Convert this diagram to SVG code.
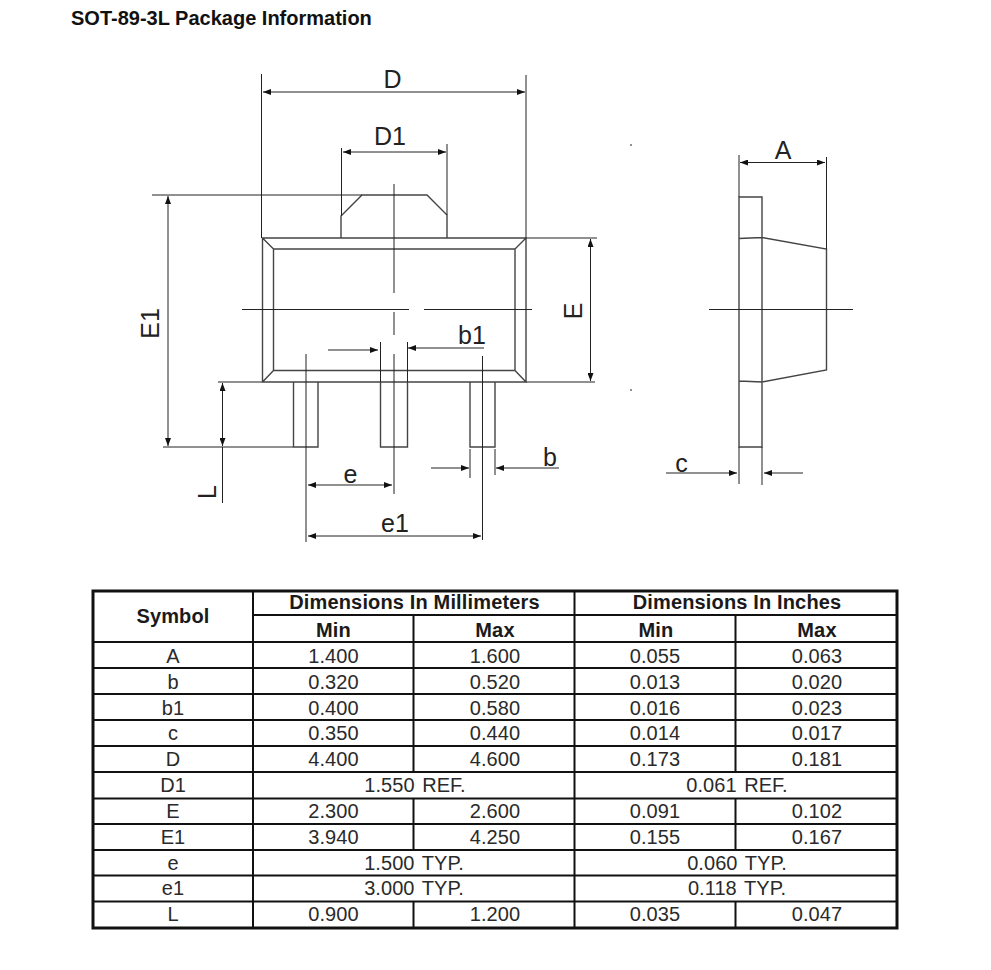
<svg xmlns="http://www.w3.org/2000/svg" width="991" height="970" viewBox="0 0 991 970">
<style>
text{font-family:"Liberation Sans",Arial,sans-serif;fill:#1a1a1a;text-anchor:middle}
.title{font-size:20px;font-weight:bold;text-anchor:start;fill:#111}
.lab{font-size:25px;fill:#222}
.c{font-size:20px;letter-spacing:.05px;word-spacing:2px;fill:#2a2a2a}
.h{font-size:20px;font-weight:bold;letter-spacing:.15px}
.dim{stroke:#222;stroke-width:1;fill:none}
.ar{stroke:#222;stroke-width:1;fill:none;marker-start:url(#a);marker-end:url(#a)}
.ar1{stroke:#222;stroke-width:1;fill:none;marker-end:url(#a)}
.o{stroke:#444;stroke-width:1.4;fill:none}
.tl{stroke:#111;stroke-width:2;fill:none}
.tb{stroke:#111;stroke-width:3;fill:none}
</style>
<defs>
<marker id="a" viewBox="0 0 8 6" refX="8" refY="3" markerWidth="8" markerHeight="6" markerUnits="userSpaceOnUse" orient="auto-start-reverse"><path d="M0 0L8 3L0 6z" fill="#111"/></marker>
</defs>
<rect width="991" height="970" fill="#fff"/>
<text class="title" x="71" y="25">SOT-89-3L Package Information</text>
<g id="package-top">
<path class="o" d="M262.500 238H526V382H262.500zM273.500 249H515V370.500H273.500zM262.500 238L273.500 249M526 238L515 249M262.500 382L273.500 370.500M526 382L515 370.500"/>
<path class="o" d="M341 238V216L362 195H427L447 215V238"/>
<path class="o" d="M293.500 382V447H318V382M380.500 382V447H407.500V382M470 382V447H495V382"/>
</g>
<g id="package-side">
<path class="o" d="M739 197H762V447H739zM739 238.500L762 237.500L826.500 249V370L762 382L739 381"/>
</g>
<g id="connectors">
<path class="dim" d="M261.500 74V238M526 75V238M341.500 148V216M447 144V215M152 195H362"/>
<path class="ar" d="M263 92H525"/>
<path class="ar" d="M343 152H446"/>
<path class="dim" d="M394 184V293M394 312V335M394 354V494M242 309.500H409M424 309.500H532"/>
<path class="ar" d="M168 196V446"/>
<path class="dim" d="M163 447H293M218 382H262M526 238H597M526 382H595"/>
<path class="ar" d="M590.500 239V381"/>
<path class="ar" d="M222.500 383V446"/>
<path class="dim" d="M222.500 447V503M306 354V542M482.500 356V540M380.500 342V382M407.500 342V382"/>
<path class="ar1" d="M328 350H378"/>
<path class="ar1" d="M484 348H408"/>
<path class="dim" d="M470 449V478M495 449V475"/>
<path class="ar1" d="M431 468H469"/>
<path class="ar1" d="M559 468H496"/>
<path class="ar" d="M308 485H392"/>
<path class="ar" d="M308 536H481"/>
<path class="dim" d="M739 155V197M826.500 157V249M739 447V484M762 447V485M709 309.500H853"/>
<path class="ar" d="M740 162.500H825"/>
<path class="ar1" d="M666 473H737"/>
<path class="ar1" d="M803 473H764"/>
<path class="dim" d="M630 145H632M630 390H632"/>
</g>
<g id="labels">
<text class="lab" x="392.500" y="88">D</text>
<text class="lab" x="390" y="145">D1</text>
<text class="lab" x="783" y="159">A</text>
<text class="lab" x="472" y="344">b1</text>
<text class="lab" x="550" y="466">b</text>
<text class="lab" x="681.500" y="472">c</text>
<text class="lab" x="350.500" y="483">e</text>
<text class="lab" x="395" y="532">e1</text>
<text class="lab" transform="translate(159 323.500) rotate(-90)">E1</text>
<text class="lab" transform="translate(582 311) rotate(-90)">E</text>
<text class="lab" transform="translate(216 492) rotate(-90)">L</text>
</g>
<g id="table">
<path class="tb" d="M93 591H897V928H93z"/>
<path class="tl" d="M253 591V928M574.500 591V928M253 615H897M93 642H897M93 668H897M93 694H897M93 720H897M93 746H897M93 772H897M93 798.500H897M93 824H897M93 850H897M93 875.500H897M93 901.500H897"/>
<path class="tl" d="M413.500 615V772M413.500 798.500V850M413.500 901.500V928M735.500 615V772M735.500 798.500V850M735.500 901.500V928"/>
<text class="h" x="173" y="623">Symbol</text>
<text class="h" x="414.500" y="609">Dimensions In Millimeters</text>
<text class="h" x="737" y="609">Dimensions In Inches</text>
<text class="h" x="333.500" y="637">Min</text><text class="h" x="495" y="637">Max</text><text class="h" x="656" y="637">Min</text><text class="h" x="817" y="637">Max</text>
<g class="rows">
<text class="c" x="173" y="663">A</text><text class="c" x="333.500" y="663">1.400</text><text class="c" x="495" y="663">1.600</text><text class="c" x="655" y="663">0.055</text><text class="c" x="817" y="663">0.063</text>
<text class="c" x="173" y="689">b</text><text class="c" x="333.500" y="689">0.320</text><text class="c" x="495" y="689">0.520</text><text class="c" x="655" y="689">0.013</text><text class="c" x="817" y="689">0.020</text>
<text class="c" x="173" y="715">b1</text><text class="c" x="333.500" y="715">0.400</text><text class="c" x="495" y="715">0.580</text><text class="c" x="655" y="715">0.016</text><text class="c" x="817" y="715">0.023</text>
<text class="c" x="173" y="740">c</text><text class="c" x="333.500" y="740">0.350</text><text class="c" x="495" y="740">0.440</text><text class="c" x="655" y="740">0.014</text><text class="c" x="817" y="740">0.017</text>
<text class="c" x="173" y="766">D</text><text class="c" x="333.500" y="766">4.400</text><text class="c" x="495" y="766">4.600</text><text class="c" x="655" y="766">0.173</text><text class="c" x="817" y="766">0.181</text>
<text class="c" x="173" y="792">D1</text><text class="c" x="415" y="792">1.550 REF.</text><text class="c" x="737" y="792">0.061 REF.</text>
<text class="c" x="173" y="818">E</text><text class="c" x="333.500" y="818">2.300</text><text class="c" x="495" y="818">2.600</text><text class="c" x="655" y="818">0.091</text><text class="c" x="817" y="818">0.102</text>
<text class="c" x="173" y="844">E1</text><text class="c" x="333.500" y="844">3.940</text><text class="c" x="495" y="844">4.250</text><text class="c" x="655" y="844">0.155</text><text class="c" x="817" y="844">0.167</text>
<text class="c" x="173" y="870">e</text><text class="c" x="414" y="870">1.500 TYP.</text><text class="c" x="737" y="870">0.060 TYP.</text>
<text class="c" x="173" y="895">e1</text><text class="c" x="414" y="895">3.000 TYP.</text><text class="c" x="737" y="895">0.118 TYP.</text>
<text class="c" x="173" y="921">L</text><text class="c" x="333.500" y="921">0.900</text><text class="c" x="495" y="921">1.200</text><text class="c" x="655" y="921">0.035</text><text class="c" x="817" y="921">0.047</text>
</g>
</g>
</svg>
